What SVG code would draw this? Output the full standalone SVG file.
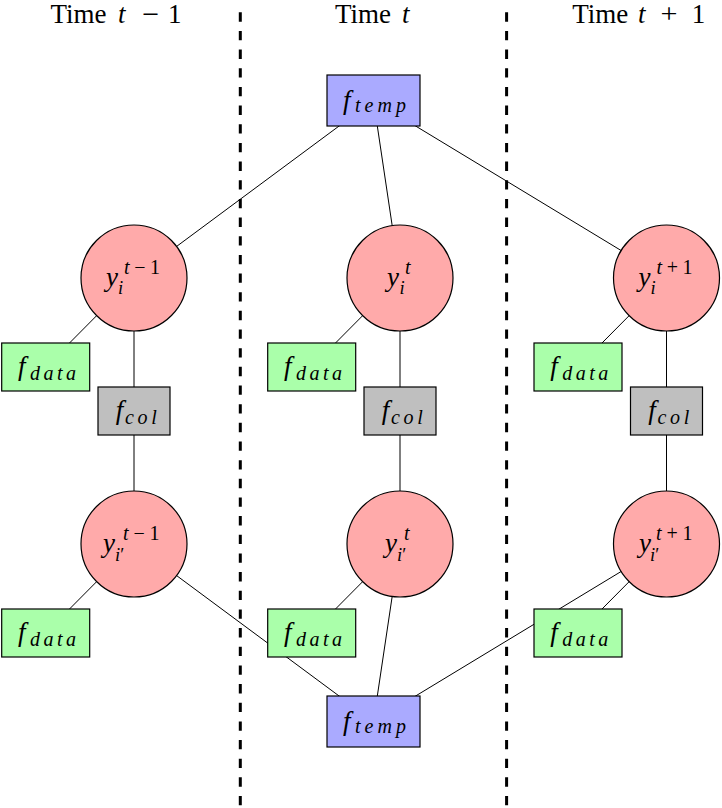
<svg xmlns="http://www.w3.org/2000/svg" width="722" height="808" viewBox="0 0 722 808">
<style>
text{font-family:'Liberation Serif','Times New Roman',Times,serif;fill:#000}
.h{font-size:27px}
.m{font-size:27px;font-style:italic}
.s{font-size:18.5px;font-style:italic}
.sp{font-size:20px;font-style:italic}
.ss{font-size:20px;font-style:italic}
.up{font-style:normal}
.c{fill:#FFAAAA;stroke:#000;stroke-width:1.2}
.d{fill:#AAFFAA;stroke:#000;stroke-width:1.2}
.t{fill:#AAAAFF;stroke:#000;stroke-width:1.2}
.g{fill:#BFBFBF;stroke:#000;stroke-width:1.2}
.e{stroke:#000;stroke-width:1;fill:none}
.dash{stroke:#000;stroke-width:3;stroke-dasharray:9.33 9.33}
</style>
<g id="headers">
<text class="h" x="50.5" y="23">Time</text><text class="m" x="118" y="23">t</text><text class="h" x="142" y="23" textLength="17" lengthAdjust="spacingAndGlyphs">−</text><text class="h" x="168" y="23">1</text>
<text class="h" x="335" y="23">Time</text><text class="m" x="402" y="23">t</text>
<text class="h" x="572.3" y="23">Time</text><text class="m" x="638" y="23">t</text><text class="h" x="660.5" y="23" textLength="17" lengthAdjust="spacingAndGlyphs">+</text><text class="h" x="691.7" y="23">1</text>
</g>
<g id="separators">
<line class="dash" x1="240.3" y1="12.3" x2="240.3" y2="808"/>
<line class="dash" x1="506.6" y1="12.3" x2="506.6" y2="808"/>
</g>
<g id="connectors">
<line class="e" x1="373.5" y1="100.5" x2="134" y2="278"/>
<line class="e" x1="373.5" y1="100.5" x2="400" y2="278"/>
<line class="e" x1="373.5" y1="100.5" x2="666.5" y2="278"/>
<line class="e" x1="134" y1="278" x2="45.7" y2="367"/>
<line class="e" x1="400" y1="278" x2="311.7" y2="367"/>
<line class="e" x1="666.5" y1="278" x2="578.2" y2="367"/>
<line class="e" x1="134" y1="278" x2="134" y2="544"/>
<line class="e" x1="400" y1="278" x2="400" y2="544"/>
<line class="e" x1="666.5" y1="278" x2="666.5" y2="544"/>
<line class="e" x1="134" y1="544" x2="45.7" y2="633"/>
<line class="e" x1="400" y1="544" x2="311.7" y2="633"/>
<line class="e" x1="666.5" y1="544" x2="578.2" y2="633"/>
<line class="e" x1="373.5" y1="721.5" x2="134" y2="544"/>
<line class="e" x1="373.5" y1="721.5" x2="400" y2="544"/>
<line class="e" x1="373.5" y1="721.5" x2="666.5" y2="544"/>
</g>
<g id="ftemp_top">
<rect class="t" x="327" y="75" width="93" height="51"/>
<text class="m" x="343" y="109">f</text><text class="ss" x="355" y="112" textLength="51" lengthAdjust="spacing">temp</text>
</g>
<g id="ftemp_bottom">
<rect class="t" x="327" y="696" width="93" height="51"/>
<text class="m" x="343" y="730">f</text><text class="ss" x="355" y="733" textLength="51" lengthAdjust="spacing">temp</text>
</g>
<g id="y_i_tm1">
<circle class="c" cx="134" cy="278" r="53"/>
<text class="m" x="106" y="286">y</text><text class="s" x="118" y="294">i</text>
<text class="sp" x="124" y="274" textLength="36" lengthAdjust="spacing">t<tspan class="up">−1</tspan></text>
</g>
<g id="y_i_t">
<circle class="c" cx="400" cy="278" r="53"/>
<text class="m" x="387" y="286">y</text><text class="s" x="399.5" y="294">i</text>
<text class="sp" x="405" y="274">t</text>
</g>
<g id="y_i_tp1">
<circle class="c" cx="666.5" cy="278" r="53"/>
<text class="m" x="638.5" y="286">y</text><text class="s" x="650.5" y="294">i</text>
<text class="sp" x="656.5" y="274" textLength="36" lengthAdjust="spacing">t<tspan class="up">+1</tspan></text>
</g>
<g id="y_ip_tm1">
<circle class="c" cx="134" cy="544" r="53"/>
<text class="m" x="103" y="552">y</text><text class="s" x="115" y="560.5">i<tspan class="up">′</tspan></text>
<text class="sp" x="123" y="539.5" textLength="36.5" lengthAdjust="spacing">t<tspan class="up">−1</tspan></text>
</g>
<g id="y_ip_t">
<circle class="c" cx="400" cy="544" r="53"/>
<text class="m" x="385" y="552">y</text><text class="s" x="397" y="560.5">i<tspan class="up">′</tspan></text>
<text class="sp" x="404" y="539.5">t</text>
</g>
<g id="y_ip_tp1">
<circle class="c" cx="666.5" cy="544" r="53"/>
<text class="m" x="639" y="552">y</text><text class="s" x="650" y="560.5">i<tspan class="up">′</tspan></text>
<text class="sp" x="656" y="539.5" textLength="36.5" lengthAdjust="spacing">t<tspan class="up">+1</tspan></text>
</g>
<g id="fdata_i_tm1">
<rect class="d" x="1.7" y="343" width="88" height="48"/>
<text class="m" x="18" y="375">f</text><text class="ss" x="30" y="379.5" textLength="46" lengthAdjust="spacing">data</text>
</g>
<g id="fdata_i_t">
<rect class="d" x="267.7" y="343" width="88" height="48"/>
<text class="m" x="284" y="375">f</text><text class="ss" x="296" y="379.5" textLength="46" lengthAdjust="spacing">data</text>
</g>
<g id="fdata_i_tp1">
<rect class="d" x="534" y="343" width="88" height="48"/>
<text class="m" x="550.3" y="375">f</text><text class="ss" x="562.3" y="379.5" textLength="46" lengthAdjust="spacing">data</text>
</g>
<g id="fcol_tm1">
<rect class="g" x="98" y="387" width="72" height="48"/>
<text class="m" x="115.7" y="419">f</text><text class="ss" x="125" y="424.3" textLength="31.7" lengthAdjust="spacing">col</text>
</g>
<g id="fcol_t">
<rect class="g" x="364" y="387" width="72" height="48"/>
<text class="m" x="381.7" y="419">f</text><text class="ss" x="391" y="424.3" textLength="31.7" lengthAdjust="spacing">col</text>
</g>
<g id="fcol_tp1">
<rect class="g" x="630.5" y="387" width="72" height="48"/>
<text class="m" x="648.2" y="419">f</text><text class="ss" x="657.5" y="424.3" textLength="31.7" lengthAdjust="spacing">col</text>
</g>
<g id="fdata_ip_tm1">
<rect class="d" x="1.7" y="609" width="88" height="48"/>
<text class="m" x="18" y="641">f</text><text class="ss" x="30" y="645.5" textLength="46" lengthAdjust="spacing">data</text>
</g>
<g id="fdata_ip_t">
<rect class="d" x="267.7" y="609" width="88" height="48"/>
<text class="m" x="284" y="641">f</text><text class="ss" x="296" y="645.5" textLength="46" lengthAdjust="spacing">data</text>
</g>
<g id="fdata_ip_tp1">
<rect class="d" x="534" y="609" width="88" height="48"/>
<text class="m" x="550.3" y="641">f</text><text class="ss" x="562.3" y="645.5" textLength="46" lengthAdjust="spacing">data</text>
</g>
</svg>
